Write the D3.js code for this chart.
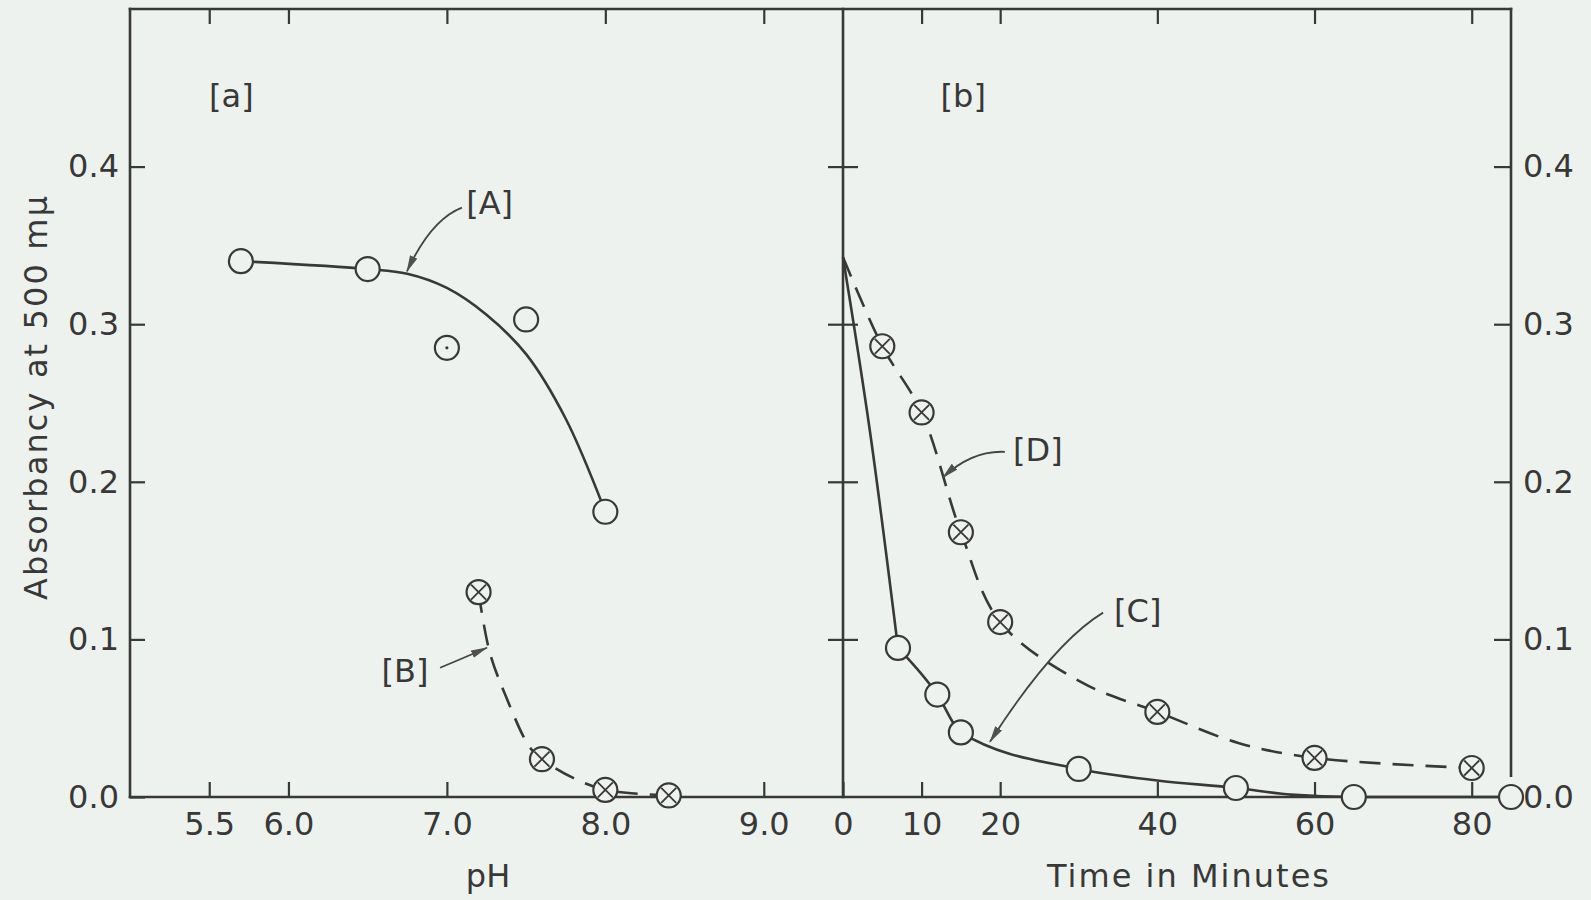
<!DOCTYPE html>
<html>
<head>
<meta charset="utf-8">
<script src="https://cdn.jsdelivr.net/npm/d3@7"></script>
<style>
  html, body { margin: 0; padding: 0; background: #eef2ee; }
  svg { display: block; }
  text { font-family: "DejaVu Sans", sans-serif; fill: #383838; }
</style>
</head>
<body>
<div id="chart"></div>
<script>
// ---- data ----
// panel [a]: absorbancy at 500 mu vs pH
const phTicks   = [5.5, 6.0, 7.0, 8.0, 9.0];
const yTicks    = [0.0, 0.1, 0.2, 0.3, 0.4];
const seriesA    = [[5.7, 0.340], [6.5, 0.335], [7.5, 0.303], [8.0, 0.181]];
const seriesADot = [[7.0, 0.285]];
const curveA     = [[5.7, 0.340], [6.5, 0.335], [6.75, 0.332], [7.0, 0.323], [7.25, 0.306],
                    [7.5, 0.281], [7.75, 0.240], [8.0, 0.181]];
const seriesB    = [[7.2, 0.130], [7.6, 0.024], [8.0, 0.0045], [8.4, 0.001]];
const curveB     = [[7.2, 0.130], [7.27, 0.092], [7.38, 0.062], [7.52, 0.032], [7.6, 0.024],
                    [7.8, 0.012], [8.0, 0.0045], [8.4, 0.001]];

// panel [b]: absorbancy vs time in minutes
const timeTicks  = [0, 10, 20, 40, 60, 80];
const seriesC    = [[7, 0.0946], [12, 0.065], [15, 0.041], [30, 0.0178], [50, 0.0057], [65, 0.0], [85, 0.0]];
const curveCfall = [[0, 0.3425], [3.4, 0.233], [7, 0.0946]];
const curveC     = [[7, 0.0946], [12, 0.065], [15, 0.041], [30, 0.0178],
                    [40, 0.0105], [50, 0.0057], [57, 0.0015], [65, 0.0], [85, 0.0]];
const seriesD    = [[5, 0.286], [10, 0.244], [15, 0.168], [20, 0.111], [40, 0.054], [60, 0.0248], [80, 0.0184]];
const curveD     = [[0, 0.3425], [5, 0.286], [10, 0.244], [15, 0.168], [20, 0.111], [30.5, 0.0724],
                    [40, 0.054], [50.3, 0.0343], [60, 0.0248], [80, 0.0184]];

// annotations, in data units of their panel: label centre, arrow start, bend, tip
const notes = [
    {panel: "a", text: "[a]", at: [5.64, 0.445]},
    {panel: "b", text: "[b]", at: [15.3, 0.445]},
    {panel: "a", text: "[A]", at: [7.27, 0.377], arrow: [[7.095, 0.374], [6.90, 0.3665], [6.748, 0.3335]]},
    {panel: "a", text: "[B]", at: [6.736, 0.080], arrow: [[6.957, 0.082], [7.10, 0.088], [7.253, 0.0947]]},
    {panel: "b", text: "[D]", at: [24.8, 0.220], arrow: [[20.6, 0.219], [16.4, 0.220], [12.7, 0.2027]]},
    {panel: "b", text: "[C]", at: [37.5, 0.118], arrow: [[33.1, 0.117], [26.8, 0.098], [18.7, 0.035]]},
];
const rightAxisEnd = 0.0135;   // right frame line stops short of the baseline

// ---- layout ----
const width = 1591, height = 900;
const ink = "#383838", paper = "#eef2ee";

const xA = d3.scaleLinear().domain([5.0, 9.5]).range([130, 843]);
const xB = d3.scaleLinear().domain([0, 85]).range([843, 1511]);
const y  = d3.scaleLinear().domain([0, 0.5]).range([797, 9]);
const X  = {a: xA, b: xB};

const svg = d3.select("#chart").append("svg")
    .attr("width", width)
    .attr("height", height);

svg.append("rect").attr("width", width).attr("height", height).attr("fill", paper);

svg.append("defs").append("marker")
    .attr("id", "head")
    .attr("markerUnits", "userSpaceOnUse")
    .attr("viewBox", "0 0 17 9")
    .attr("markerWidth", 17).attr("markerHeight", 9)
    .attr("refX", 16).attr("refY", 4.5)
    .attr("orient", "auto")
  .append("path")
    .attr("d", "M0,0.5L17,4.5L0,8.5Z")
    .attr("fill", "#505050");

const styleAxis = g => g
    .attr("color", ink)
    .call(g => g.select(".domain").remove())
    .call(g => g.selectAll(".tick line").attr("stroke-width", 2.2))
    .call(g => g.selectAll("text").attr("font-size", 32).attr("font-family", "DejaVu Sans"));

// ticks on the outer frame
const [y0, yTop] = y.range();
const noLabel = () => "";

svg.append("g").attr("transform", `translate(0,${yTop})`)
    .call(d3.axisTop(xA).tickValues(phTicks).tickSize(-15).tickFormat(noLabel)).call(styleAxis);
svg.append("g").attr("transform", `translate(0,${yTop})`)
    .call(d3.axisTop(xB).tickValues(timeTicks.filter(t => t > 0)).tickSize(-15).tickFormat(noLabel)).call(styleAxis);

svg.append("g").attr("transform", `translate(0,${y0})`)
    .call(d3.axisBottom(xA).tickValues(phTicks).tickSize(-15).tickPadding(15).tickFormat(d3.format(".1f")))
    .call(styleAxis);
svg.append("g").attr("transform", `translate(0,${y0})`)
    .call(d3.axisBottom(xB).tickValues(timeTicks).tickSize(-15).tickPadding(15).tickFormat(d3.format("d")))
    .call(styleAxis);

svg.append("g").attr("transform", `translate(${xA.range()[0]},0)`)
    .call(d3.axisLeft(y).tickValues(yTicks).tickSize(-15).tickPadding(11).tickFormat(d3.format(".1f")))
    .call(styleAxis);
svg.append("g").attr("transform", `translate(${xB.range()[1]},0)`)
    .call(d3.axisRight(y).tickValues(yTicks.filter(v => v > 0)).tickSize(-17).tickPadding(12).tickFormat(d3.format(".1f")))
    .call(styleAxis);
svg.append("g").attr("transform", `translate(${xB.range()[1] + 12},0)`)
    .call(d3.axisRight(y).tickValues([0]).tickSize(0).tickPadding(0).tickFormat(d3.format(".1f")))
    .call(styleAxis);
// ticks crossing the middle divider
svg.append("g").attr("transform", `translate(${xB.range()[0] - 15},0)`)
    .call(d3.axisRight(y).tickValues(yTicks.filter(v => v > 0)).tickSize(30).tickFormat(noLabel))
    .call(styleAxis);

// frame lines
const frame = [
    [[xA.range()[0], yTop], [xB.range()[1], yTop]],
    [[xA.range()[0], yTop], [xA.range()[0], y0]],
    [[xB.range()[0], yTop], [xB.range()[0], y0]],
    [[xB.range()[1], yTop], [xB.range()[1], y(rightAxisEnd)]],
    [[xA.range()[0], y0], [xB.range()[1], y0]],
];
svg.append("g").selectAll("line").data(frame).join("line")
    .attr("x1", d => d[0][0]).attr("y1", d => d[0][1])
    .attr("x2", d => d[1][0]).attr("y2", d => d[1][1])
    .attr("stroke", ink).attr("stroke-width", 2.6).attr("stroke-linecap", "square");

// axis titles
svg.append("text")
    .attr("transform", "translate(47,398) rotate(-90)")
    .attr("text-anchor", "middle")
    .attr("font-size", 32)
    .attr("textLength", 404).attr("lengthAdjust", "spacing")
    .text("Absorbancy at 500 mμ");
svg.append("text")
    .attr("x", 488).attr("y", 887)
    .attr("text-anchor", "middle").attr("font-size", 32)
    .text("pH");
svg.append("text")
    .attr("x", 1188).attr("y", 887)
    .attr("text-anchor", "middle").attr("font-size", 32)
    .attr("textLength", 282).attr("lengthAdjust", "spacing")
    .text("Time in Minutes");

// curves
const drawCurve = (pts, xs, dashed, curve) => svg.append("path")
    .datum(pts)
    .attr("d", d3.line().x(d => xs(d[0])).y(d => y(d[1])).curve(curve || d3.curveCatmullRom.alpha(0.5)))
    .attr("fill", "none")
    .attr("stroke", ink)
    .attr("stroke-width", 2.6)
    .attr("stroke-dasharray", dashed ? "21,12" : null);

drawCurve(curveA, xA, false);
drawCurve(curveB, xA, true);
drawCurve(curveCfall, xB, false);
drawCurve(curveC, xB, false, d3.curveMonotoneX);
drawCurve(curveD, xB, true);

// annotations
const notesG = svg.append("g");
notes.forEach(n => {
    const xs = X[n.panel];
    notesG.append("text")
        .attr("x", xs(n.at[0])).attr("y", y(n.at[1]))
        .attr("text-anchor", "middle").attr("dominant-baseline", "central")
        .attr("font-size", 32)
        .text(n.text);
    if (!n.arrow) return;
    const [p0, c, p1] = n.arrow.map(d => [xs(d[0]), y(d[1])]);
    const p = d3.path();
    p.moveTo(...p0);
    p.quadraticCurveTo(...c, ...p1);
    notesG.append("path")
        .attr("d", p.toString())
        .attr("fill", "none").attr("stroke", "#444").attr("stroke-width", 1.8)
        .attr("marker-end", "url(#head)");
});

// markers
const drawMarkers = (pts, xs, kind) => {
    const m = svg.append("g").selectAll("g").data(pts).join("g")
        .attr("transform", d => `translate(${xs(d[0])},${y(d[1])})`);
    m.append("circle")
        .attr("r", 12)
        .attr("fill", paper).attr("stroke", ink).attr("stroke-width", 2.2);
    if (kind === "cross") m.append("path")
        .attr("d", "M-7.5,-7.5L7.5,7.5M7.5,-7.5L-7.5,7.5")
        .attr("stroke", ink).attr("stroke-width", 1.8);
    if (kind === "dot") m.append("circle").attr("r", 1.6).attr("fill", ink);
};

drawMarkers(seriesA, xA, "open");
drawMarkers(seriesADot, xA, "dot");
drawMarkers(seriesB, xA, "cross");
drawMarkers(seriesC, xB, "open");
drawMarkers(seriesD, xB, "cross");
</script>
</body>
</html>
